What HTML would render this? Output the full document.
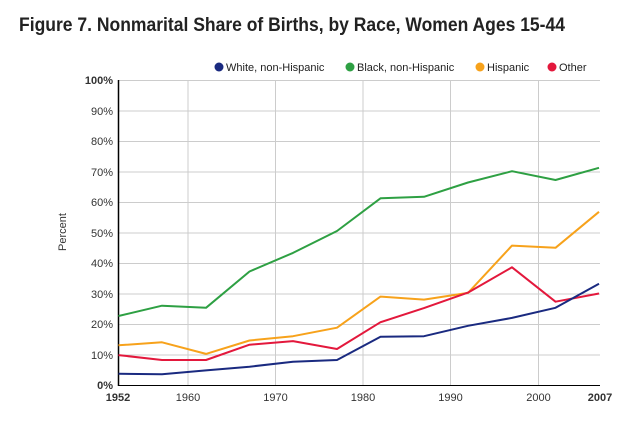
<!DOCTYPE html>
<html><head><meta charset="utf-8"><style>
body{margin:0;background:#fff;width:640px;height:440px;overflow:hidden}
svg text{font-family:"Liberation Sans",Arial,sans-serif}
</style></head><body>
<svg width="640" height="440" xmlns="http://www.w3.org/2000/svg">
<text x="19" y="31" font-size="19" font-weight="bold" fill="#222" textLength="546" lengthAdjust="spacingAndGlyphs">Figure 7. Nonmarital Share of Births, by Race, Women Ages 15-44</text>
<g font-size="11" fill="#222">
<circle cx="219" cy="67" r="4.5" fill="#1a2a80"/><text x="226" y="71">White, non-Hispanic</text>
<circle cx="350" cy="67" r="4.5" fill="#2ea043"/><text x="357" y="71">Black, non-Hispanic</text>
<circle cx="480" cy="67" r="4.5" fill="#f7a21b"/><text x="487" y="71">Hispanic</text>
<circle cx="552" cy="67" r="4.5" fill="#e3183c"/><text x="559" y="71">Other</text>
</g>
<g stroke="#ccc" stroke-width="1">
<line x1="118" y1="80.5" x2="600" y2="80.5"/><line x1="118" y1="111" x2="600" y2="111"/><line x1="118" y1="141.5" x2="600" y2="141.5"/><line x1="118" y1="172" x2="600" y2="172"/><line x1="118" y1="202.5" x2="600" y2="202.5"/><line x1="118" y1="233" x2="600" y2="233"/><line x1="118" y1="263.5" x2="600" y2="263.5"/><line x1="118" y1="294" x2="600" y2="294"/><line x1="118" y1="324.5" x2="600" y2="324.5"/><line x1="118" y1="355" x2="600" y2="355"/>
<line x1="188" y1="80" x2="188" y2="385"/><line x1="275.5" y1="80" x2="275.5" y2="385"/><line x1="363" y1="80" x2="363" y2="385"/><line x1="450.5" y1="80" x2="450.5" y2="385"/><line x1="538.5" y1="80" x2="538.5" y2="385"/>
</g>
<line x1="118.5" y1="80" x2="118.5" y2="386" stroke="#000" stroke-width="1.5"/>
<line x1="118" y1="385.5" x2="600" y2="385.5" stroke="#000" stroke-width="1"/>
<g font-size="11" fill="#333" text-anchor="end">
<text x="113" y="84" font-weight="bold">100%</text><text x="113" y="115">90%</text><text x="113" y="145">80%</text><text x="113" y="176">70%</text><text x="113" y="206">60%</text><text x="113" y="237">50%</text><text x="113" y="267">40%</text><text x="113" y="298">30%</text><text x="113" y="328">20%</text><text x="113" y="359">10%</text><text x="113" y="389" font-weight="bold">0%</text>
</g>
<g font-size="11" fill="#333" text-anchor="middle">
<text x="118" y="401" font-weight="bold">1952</text><text x="188" y="401">1960</text><text x="275.5" y="401">1970</text><text x="363" y="401">1980</text><text x="450.5" y="401">1990</text><text x="538.5" y="401">2000</text><text x="600" y="401" font-weight="bold">2007</text>
</g>
<text transform="translate(66,232) rotate(-90)" font-size="11" fill="#333" text-anchor="middle">Percent</text>
<g fill="none" stroke-width="2" stroke-linejoin="round">
<polyline stroke="#2ea043" points="118.5,316 162,305.7 206,307.8 249.5,271.5 293,252.9 337,231 380.5,198.3 424,196.8 468,182.5 512,171.2 555.5,180 599,167.8"/>
<polyline stroke="#f7a21b" points="118.5,345.3 162,342.3 206,353.9 249.5,340.5 293,336.2 337,327.7 380.5,296.6 424,299.6 468,292.9 512,245.6 555.5,247.8 599,211.8"/>
<polyline stroke="#e3183c" points="118.5,355.1 162,360 206,360 249.5,344.7 293,341.1 337,349 380.5,322.2 424,308.1 468,292.6 512,267.3 555.5,301.7 599,293.5"/>
<polyline stroke="#1a2a80" points="118.5,373.7 162,374.3 206,370.4 249.5,366.7 293,361.8 337,360 380.5,336.8 424,336.2 468,325.8 512,317.9 555.5,307.8 599,283.7"/>
</g>
</svg>
</body></html>
